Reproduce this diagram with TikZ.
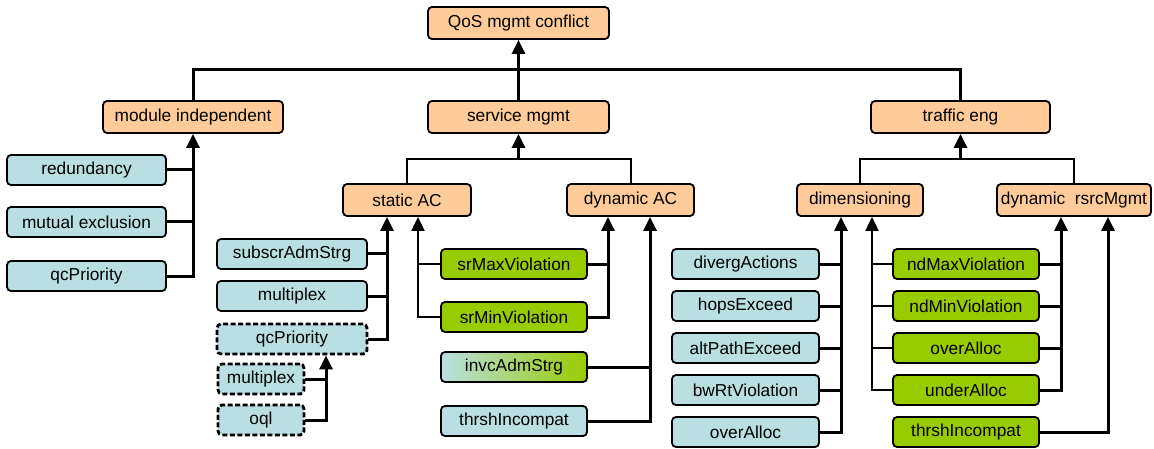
\documentclass[tikz,border=0pt]{standalone}
\usepackage{fontspec}
\setmainfont{Liberation Sans}
\usetikzlibrary{arrows.meta}
\definecolor{peach}{RGB}{255,204,153}
\definecolor{lblue}{RGB}{185,223,227}
\definecolor{lgreen}{RGB}{153,204,0}
\tikzset{
 box/.style={draw, line width=1.8pt, rounded corners=4pt, inner sep=0pt, font=\fontsize{17.3}{20}\selectfont, text=black},
 cat/.style={box, fill=peach, minimum height=32pt},
 bleaf/.style={box, fill=lblue, minimum height=30pt},
 gleaf/.style={box, fill=lgreen, minimum height=30pt},
 dleaf/.style={bleaf, dash pattern=on 5pt off 2.5pt, line width=2.8pt},
 conn/.style={draw, line width=3pt},
 tconn/.style={draw, line width=2pt},
 arr/.style={-{Triangle[length=14pt,width=13pt]}},
}
\begin{document}
\begin{tikzpicture}[x=1pt,y=-1pt]
\useasboundingbox (0,0) rectangle (1154,449);
% categories
\node[cat, minimum width=181pt] (qos) at (518.5,23) {QoS mgmt conflict};
\node[cat, minimum width=180pt] (modind) at (193,117) {module independent};
\node[cat, minimum width=181pt] (svc) at (518.5,117) {service mgmt};
\node[cat, minimum width=179pt] (traf) at (960.5,117) {traffic eng};
\node[cat, minimum width=128pt] (sac) at (407,200) {static AC};
\node[cat, minimum width=127pt] (dac) at (630.5,200) {dynamic AC};
\node[cat, minimum width=126pt] (dim) at (860,200) {dimensioning};
\node[cat, minimum width=154pt] (drm) at (1074,200) {dynamic\ \ rsrcMgmt};
% module independent leaves
\node[bleaf, minimum width=159pt] (red) at (86.5,170) {redundancy};
\node[bleaf, minimum width=159pt] (mutex) at (86.5,222) {mutual exclusion};
\node[bleaf, minimum width=159pt] (qcp) at (86.5,276) {qcPriority};
% static AC leaves
\node[bleaf, minimum width=150pt] (sub) at (292,254) {subscrAdmStrg};
\node[bleaf, minimum width=150pt] (mpx) at (292,296) {multiplex};
\node[dleaf, minimum width=150pt] (qcp2) at (292,339) {qcPriority};
\node[dleaf, minimum width=86pt] (mpx2) at (261,379) {multiplex};
\node[dleaf, minimum width=86pt] (oql) at (261,420) {oql};
% dynamic AC leaves
\node[gleaf, minimum width=146pt] (srmax) at (514,264) {srMaxViolation};
\node[gleaf, minimum width=146pt] (srmin) at (514,317) {srMinViolation};
\node[bleaf, minimum width=146pt, left color=lblue, middle color=lblue, right color=lgreen] (invc) at (514,367) {invcAdmStrg};
\node[bleaf, minimum width=146pt] (thr1) at (514,421) {thrshIncompat};
% dimensioning leaves
\node[bleaf, minimum width=147pt] (divg) at (745.5,264) {divergActions};
\node[bleaf, minimum width=147pt] (hops) at (745.5,306) {hopsExceed};
\node[bleaf, minimum width=147pt] (alt) at (745.5,348) {altPathExceed};
\node[bleaf, minimum width=147pt] (bwrt) at (745.5,390) {bwRtViolation};
\node[bleaf, minimum width=147pt] (ovr1) at (745.5,432) {overAlloc};
% dynamic rsrcMgmt leaves
\node[gleaf, minimum width=146pt] (ndmax) at (966,264) {ndMaxViolation};
\node[gleaf, minimum width=146pt] (ndmin) at (966,306) {ndMinViolation};
\node[gleaf, minimum width=146pt] (ovr2) at (966,348) {overAlloc};
\node[gleaf, minimum width=146pt] (und) at (966,390) {underAlloc};
\node[gleaf, minimum width=146pt] (thr2) at (966,432) {thrshIncompat};
% top level
\coordinate (bus0) at (518.5,70);
\draw[conn] (modind.north) -- (modind.north |- bus0) -- (traf.north |- bus0) -- (traf.north);
\draw[conn,arr] (svc.north) -- (qos.south);
% service mgmt
\coordinate (bus1) at (518.5,159);
\draw[tconn] (sac.north) -- (sac.north |- bus1) -- (dac.north |- bus1) -- (dac.north);
\draw[conn,arr] (bus1) -- (svc.south);
% traffic eng
\coordinate (bus2) at (960.5,159);
\draw[tconn] (dim.north) -- (dim.north |- bus2) -- (drm.north |- bus2) -- (drm.north);
\draw[conn,arr] (bus2) -- (traf.south);
% module independent
\draw[conn,arr] (qcp.east) -| (modind.south);
\draw[conn] (red.east) -- (red.east -| modind.south);
\draw[conn] (mutex.east) -- (mutex.east -| modind.south);
% static AC
\coordinate (sacA) at ([xshift=-20pt]sac.south);
\draw[conn,arr] (qcp2.east) -| (sacA);
\draw[conn] (sub.east) -- (sub.east -| sacA);
\draw[conn] (mpx.east) -- (mpx.east -| sacA);
\coordinate (sacB) at ([xshift=11pt]sac.south);
\draw[tconn,arr] (srmin.west) -| (sacB);
\draw[tconn] (srmax.west) -- (srmax.west -| sacB);
% qcPriority (dashed)
\coordinate (qcpA) at ([xshift=34pt]qcp2.south);
\draw[conn,arr] (oql.east) -| (qcpA);
\draw[conn] (mpx2.east) -- (mpx2.east -| qcpA);
% dynamic AC
\coordinate (dacA) at ([xshift=-22.5pt]dac.south);
\draw[conn,arr] (srmin.east) -| (dacA);
\draw[conn] (srmax.east) -- (srmax.east -| dacA);
\coordinate (dacB) at ([xshift=19.5pt]dac.south);
\draw[conn,arr] (thr1.east) -| (dacB);
\draw[conn] (invc.east) -- (invc.east -| dacB);
% dimensioning
\coordinate (dimA) at ([xshift=-19pt]dim.south);
\draw[conn,arr] (ovr1.east) -| (dimA);
\foreach \n in {divg,hops,alt,bwrt} \draw[conn] (\n.east) -- (\n.east -| dimA);
\coordinate (dimB) at ([xshift=12pt]dim.south);
\draw[tconn,arr] (und.west) -| (dimB);
\foreach \n in {ndmax,ndmin,ovr2} \draw[tconn] (\n.west) -- (\n.west -| dimB);
% dynamic rsrcMgmt
\coordinate (drmA) at ([xshift=-13pt]drm.south);
\draw[conn,arr] (und.east) -| (drmA);
\foreach \n in {ndmax,ndmin,ovr2} \draw[conn] (\n.east) -- (\n.east -| drmA);
\coordinate (drmB) at ([xshift=34pt]drm.south);
\draw[conn,arr] (thr2.east) -| (drmB);
\end{tikzpicture}
\end{document}
